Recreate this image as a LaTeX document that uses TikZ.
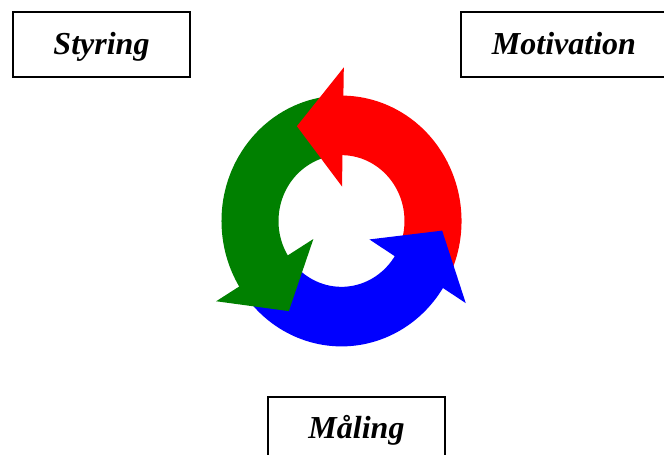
\documentclass[tikz,border=0pt]{standalone}
\usepackage{fontspec}
\setmainfont{Liberation Serif}
\usetikzlibrary{calc}
\definecolor{cyclered}{RGB}{255,0,0}
\definecolor{cyclegreen}{RGB}{0,128,0}
\definecolor{cycleblue}{RGB}{0,0,255}

% band of the ring from angle #1 to angle #2
\newcommand{\ringband}[3]{%
  \fill[#3] (#1:\Rout) arc[start angle=#1, end angle=#2, radius=\Rout]
    -- (#2:\Rin) arc[start angle=#2, end angle=#1, radius=\Rin] -- cycle;}
% arrow head whose base lies on the radius at angle #1
\newcommand{\ringhead}[2]{%
  \fill[#2] (#1:33) -- (#1:147) -- ($(#1:90)+(#1+90:46)$) -- cycle;}

\begin{document}
\begin{tikzpicture}[x=1pt,y=-1pt,
  labelbox/.style={draw=black, line width=1.3pt, inner sep=0pt,
    minimum height=65pt, text depth=5pt,
    font=\fontsize{32}{36}\selectfont\bfseries\itshape},
]
\useasboundingbox (0,0) rectangle (664,455);
\clip (0,0) rectangle (664,455);
\fill[white] (0,0) rectangle (664,455);

% labelled boxes
\node[labelbox, minimum width=177pt, text height=25pt] (styring) at (101.5,44.5) {Styring};
\node[labelbox, minimum width=206pt, text height=25pt] (motivation) at (564,44.5) {Motivation};
\node[labelbox, minimum width=177pt, text height=22pt] (maaling) at (356.5,429.5) {Måling};

% three curved arrows forming a cycle
\begin{scope}[shift={(341.5,221)}, yscale=-1.045]
  \def\Rout{120}
  \def\Rin{63}
  \ringband{335}{450.6}{cyclered}
  \ringband{96}{213}{cyclegreen}
  \ringband{218.5}{329.2}{cycleblue}
  \ringhead{89.1}{cyclered}
  \ringhead{211.5}{cyclegreen}
  \ringhead{327.7}{cycleblue}
\end{scope}
\end{tikzpicture}
\end{document}
